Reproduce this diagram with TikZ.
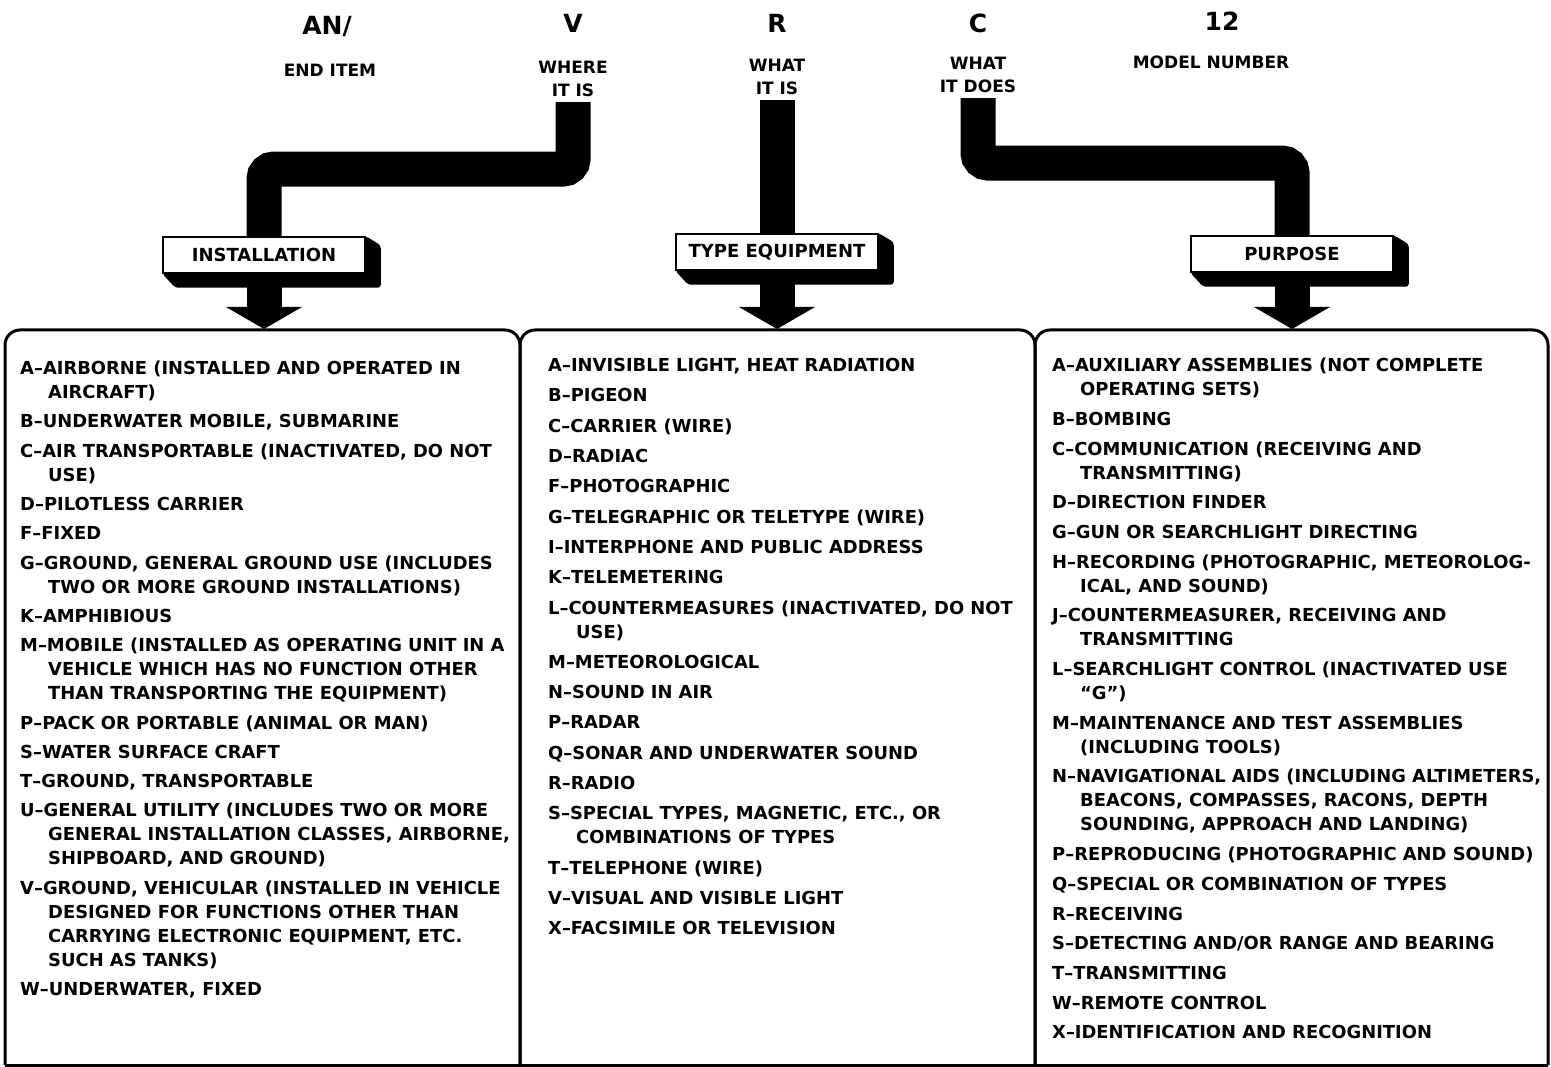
\documentclass[tikz,border=0pt]{standalone}
\usepackage{fontspec}
\setmainfont{DejaVu Sans}
\usetikzlibrary{arrows.meta}
\usetikzlibrary{positioning}
\usetikzlibrary{calc}
\usetikzlibrary{backgrounds}

\newlength{\itemgap}
\newcommand{\nexti}{\\[\itemgap]}
\newcommand{\ind}{\hspace*{28pt}}
\newcommand{\firstline}{\rule{0pt}{15pt}}
\newcommand{\tagshadow}[1]{%
  \begin{scope}[on background layer]
    \fill[rounded corners=3pt] (#1.north east) -- ($(#1.north east)+(15,9)$) -- ($(#1.south east)+(15,14)$) -- ($(#1.south west)+(13,14)$) -- (#1.south west) -- cycle;
  \end{scope}}

\begin{document}
\begin{tikzpicture}[x=1pt, y=-1pt,
    topletter/.style={font=\bfseries\fontsize{25}{28}\selectfont},
    subcaption/.style={font=\bfseries\fontsize{17}{23}\selectfont, align=center, inner sep=2pt},
    tagbox/.style={draw, line width=1.5pt, fill=white, minimum width=202pt, minimum height=36pt, font=\bfseries\fontsize{18}{20}\selectfont},
    pipe/.style={line width=35pt},
    pipebend/.style={pipe, rounded corners=10pt},
    pipehead/.style={-{Triangle[width=76pt, length=22pt, line width=0pt]}},
    colframe/.style={line width=3pt, rounded corners=15pt},
    itemlist/.style={anchor=north west, inner sep=0pt, align=left, font=\bfseries\fontsize{17.9}{24}\selectfont}]

    \useasboundingbox (0,0) rectangle (1551,1067);

    % Code letters
    \node [topletter] (an) at (327,27) {AN/};
    \node [subcaption, below of=an, node distance=43pt, xshift=3pt] (enditem) {END ITEM};
    \node [topletter] (v) at (573,23) {V};
    \node [subcaption, below of=v, node distance=56pt] (wherev) {WHERE\\IT IS};
    \node [topletter] (r) at (777,23) {R};
    \node [subcaption, below of=r, node distance=54pt] (whatr) {WHAT\\IT IS};
    \node [topletter] (c) at (978,23) {C};
    \node [subcaption, below of=c, node distance=52pt] (whatc) {WHAT\\IT DOES};
    \node [topletter] (num) at (1222,21) {12};
    \node [subcaption, below of=num, node distance=41pt, xshift=-11pt] (model) {MODEL NUMBER};

    % Tags
    \node [tagbox] (inst) at (264,255) {INSTALLATION};
    \node [tagbox] (typ) at (777,252) {TYPE EQUIPMENT};
    \node [tagbox] (purp) at (1292,254) {PURPOSE};
    \tagshadow{inst}
    \tagshadow{typ}
    \tagshadow{purp}

    % Pipes
    \draw [pipebend] ([yshift=-3pt]wherev.south) -- ++(0,67) -| (inst.north); % V to installation
    \draw [pipe] ([yshift=-3pt]whatr.south) -- (typ.north); % R to type equipment
    \draw [pipebend] ([yshift=-3pt]whatc.south) -- ++(0,65) -| (purp.north); % C to purpose

    % Arrows into the columns
    \coordinate (topedge) at (0,329);
    \draw [pipe, pipehead] ([yshift=-10pt]inst.south) -- (inst.south |- topedge);
    \draw [pipe, pipehead] ([yshift=-10pt]typ.south) -- (typ.south |- topedge);
    \draw [pipe, pipehead] ([yshift=-10pt]purp.south) -- (purp.south |- topedge);

    % Column frames
    \draw [colframe] (5,1065) -- (5,330) -- (520,330) -- (520,1065);
    \draw [colframe] (520,1065) -- (520,330) -- (1035,330) -- (1035,1065);
    \draw [colframe] (1035,1065) -- (1035,330) -- (1548,330) -- (1548,1065);
    \draw [line width=3pt] (5,1065) -- (1548,1065);

    % Installation list
    \setlength{\itemgap}{5.3pt}
    \node [itemlist] (instlist) at (20,359.4) {\firstline A–AIRBORNE (INSTALLED AND OPERATED IN\\\ind AIRCRAFT)\nexti
      B–UNDERWATER MOBILE, SUBMARINE\nexti
      C–AIR TRANSPORTABLE (INACTIVATED, DO NOT\\\ind USE)\nexti
      D–PILOTLESS CARRIER\nexti
      F–FIXED\nexti
      G–GROUND, GENERAL GROUND USE (INCLUDES\\\ind TWO OR MORE GROUND INSTALLATIONS)\nexti
      K–AMPHIBIOUS\nexti
      M–MOBILE (INSTALLED AS OPERATING UNIT IN A\\\ind VEHICLE WHICH HAS NO FUNCTION OTHER\\\ind THAN TRANSPORTING THE EQUIPMENT)\nexti
      P–PACK OR PORTABLE (ANIMAL OR MAN)\nexti
      S–WATER SURFACE CRAFT\nexti
      T–GROUND, TRANSPORTABLE\nexti
      U–GENERAL UTILITY (INCLUDES TWO OR MORE\\\ind GENERAL INSTALLATION CLASSES, AIRBORNE,\\\ind SHIPBOARD, AND GROUND)\nexti
      V–GROUND, VEHICULAR (INSTALLED IN VEHICLE\\\ind DESIGNED FOR FUNCTIONS OTHER THAN\\\ind CARRYING ELECTRONIC EQUIPMENT, ETC.\\\ind SUCH AS TANKS)\nexti
      W–UNDERWATER, FIXED};

    % Type equipment list
    \setlength{\itemgap}{6.3pt}
    \node [itemlist] (typlist) at (548,356.4) {\firstline A–INVISIBLE LIGHT, HEAT RADIATION\nexti
      B–PIGEON\nexti
      C–CARRIER (WIRE)\nexti
      D–RADIAC\nexti
      F–PHOTOGRAPHIC\nexti
      G–TELEGRAPHIC OR TELETYPE (WIRE)\nexti
      I–INTERPHONE AND PUBLIC ADDRESS\nexti
      K–TELEMETERING\nexti
      L–COUNTERMEASURES (INACTIVATED, DO NOT\\\ind USE)\nexti
      M–METEOROLOGICAL\nexti
      N–SOUND IN AIR\nexti
      P–RADAR\nexti
      Q–SONAR AND UNDERWATER SOUND\nexti
      R–RADIO\nexti
      S–SPECIAL TYPES, MAGNETIC, ETC., OR\\\ind COMBINATIONS OF TYPES\nexti
      T–TELEPHONE (WIRE)\nexti
      V–VISUAL AND VISIBLE LIGHT\nexti
      X–FACSIMILE OR TELEVISION};

    % Purpose list
    \setlength{\itemgap}{5.7pt}
    \node [itemlist] (purplist) at (1052,356.4) {\firstline A–AUXILIARY ASSEMBLIES (NOT COMPLETE\\\ind OPERATING SETS)\nexti
      B–BOMBING\nexti
      C–COMMUNICATION (RECEIVING AND\\\ind TRANSMITTING)\nexti
      D–DIRECTION FINDER\nexti
      G–GUN OR SEARCHLIGHT DIRECTING\nexti
      H–RECORDING (PHOTOGRAPHIC, METEOROLOG-\\\ind ICAL, AND SOUND)\nexti
      J–COUNTERMEASURER, RECEIVING AND\\\ind TRANSMITTING\nexti
      L–SEARCHLIGHT CONTROL (INACTIVATED USE\\\ind ``G'')\nexti
      M–MAINTENANCE AND TEST ASSEMBLIES\\\ind (INCLUDING TOOLS)\nexti
      N–NAVIGATIONAL AIDS (INCLUDING ALTIMETERS,\\\ind BEACONS, COMPASSES, RACONS, DEPTH\\\ind SOUNDING, APPROACH AND LANDING)\nexti
      P–REPRODUCING (PHOTOGRAPHIC AND SOUND)\nexti
      Q–SPECIAL OR COMBINATION OF TYPES\nexti
      R–RECEIVING\nexti
      S–DETECTING AND/OR RANGE AND BEARING\nexti
      T–TRANSMITTING\nexti
      W–REMOTE CONTROL\nexti
      X–IDENTIFICATION AND RECOGNITION};

\end{tikzpicture}
\end{document}
